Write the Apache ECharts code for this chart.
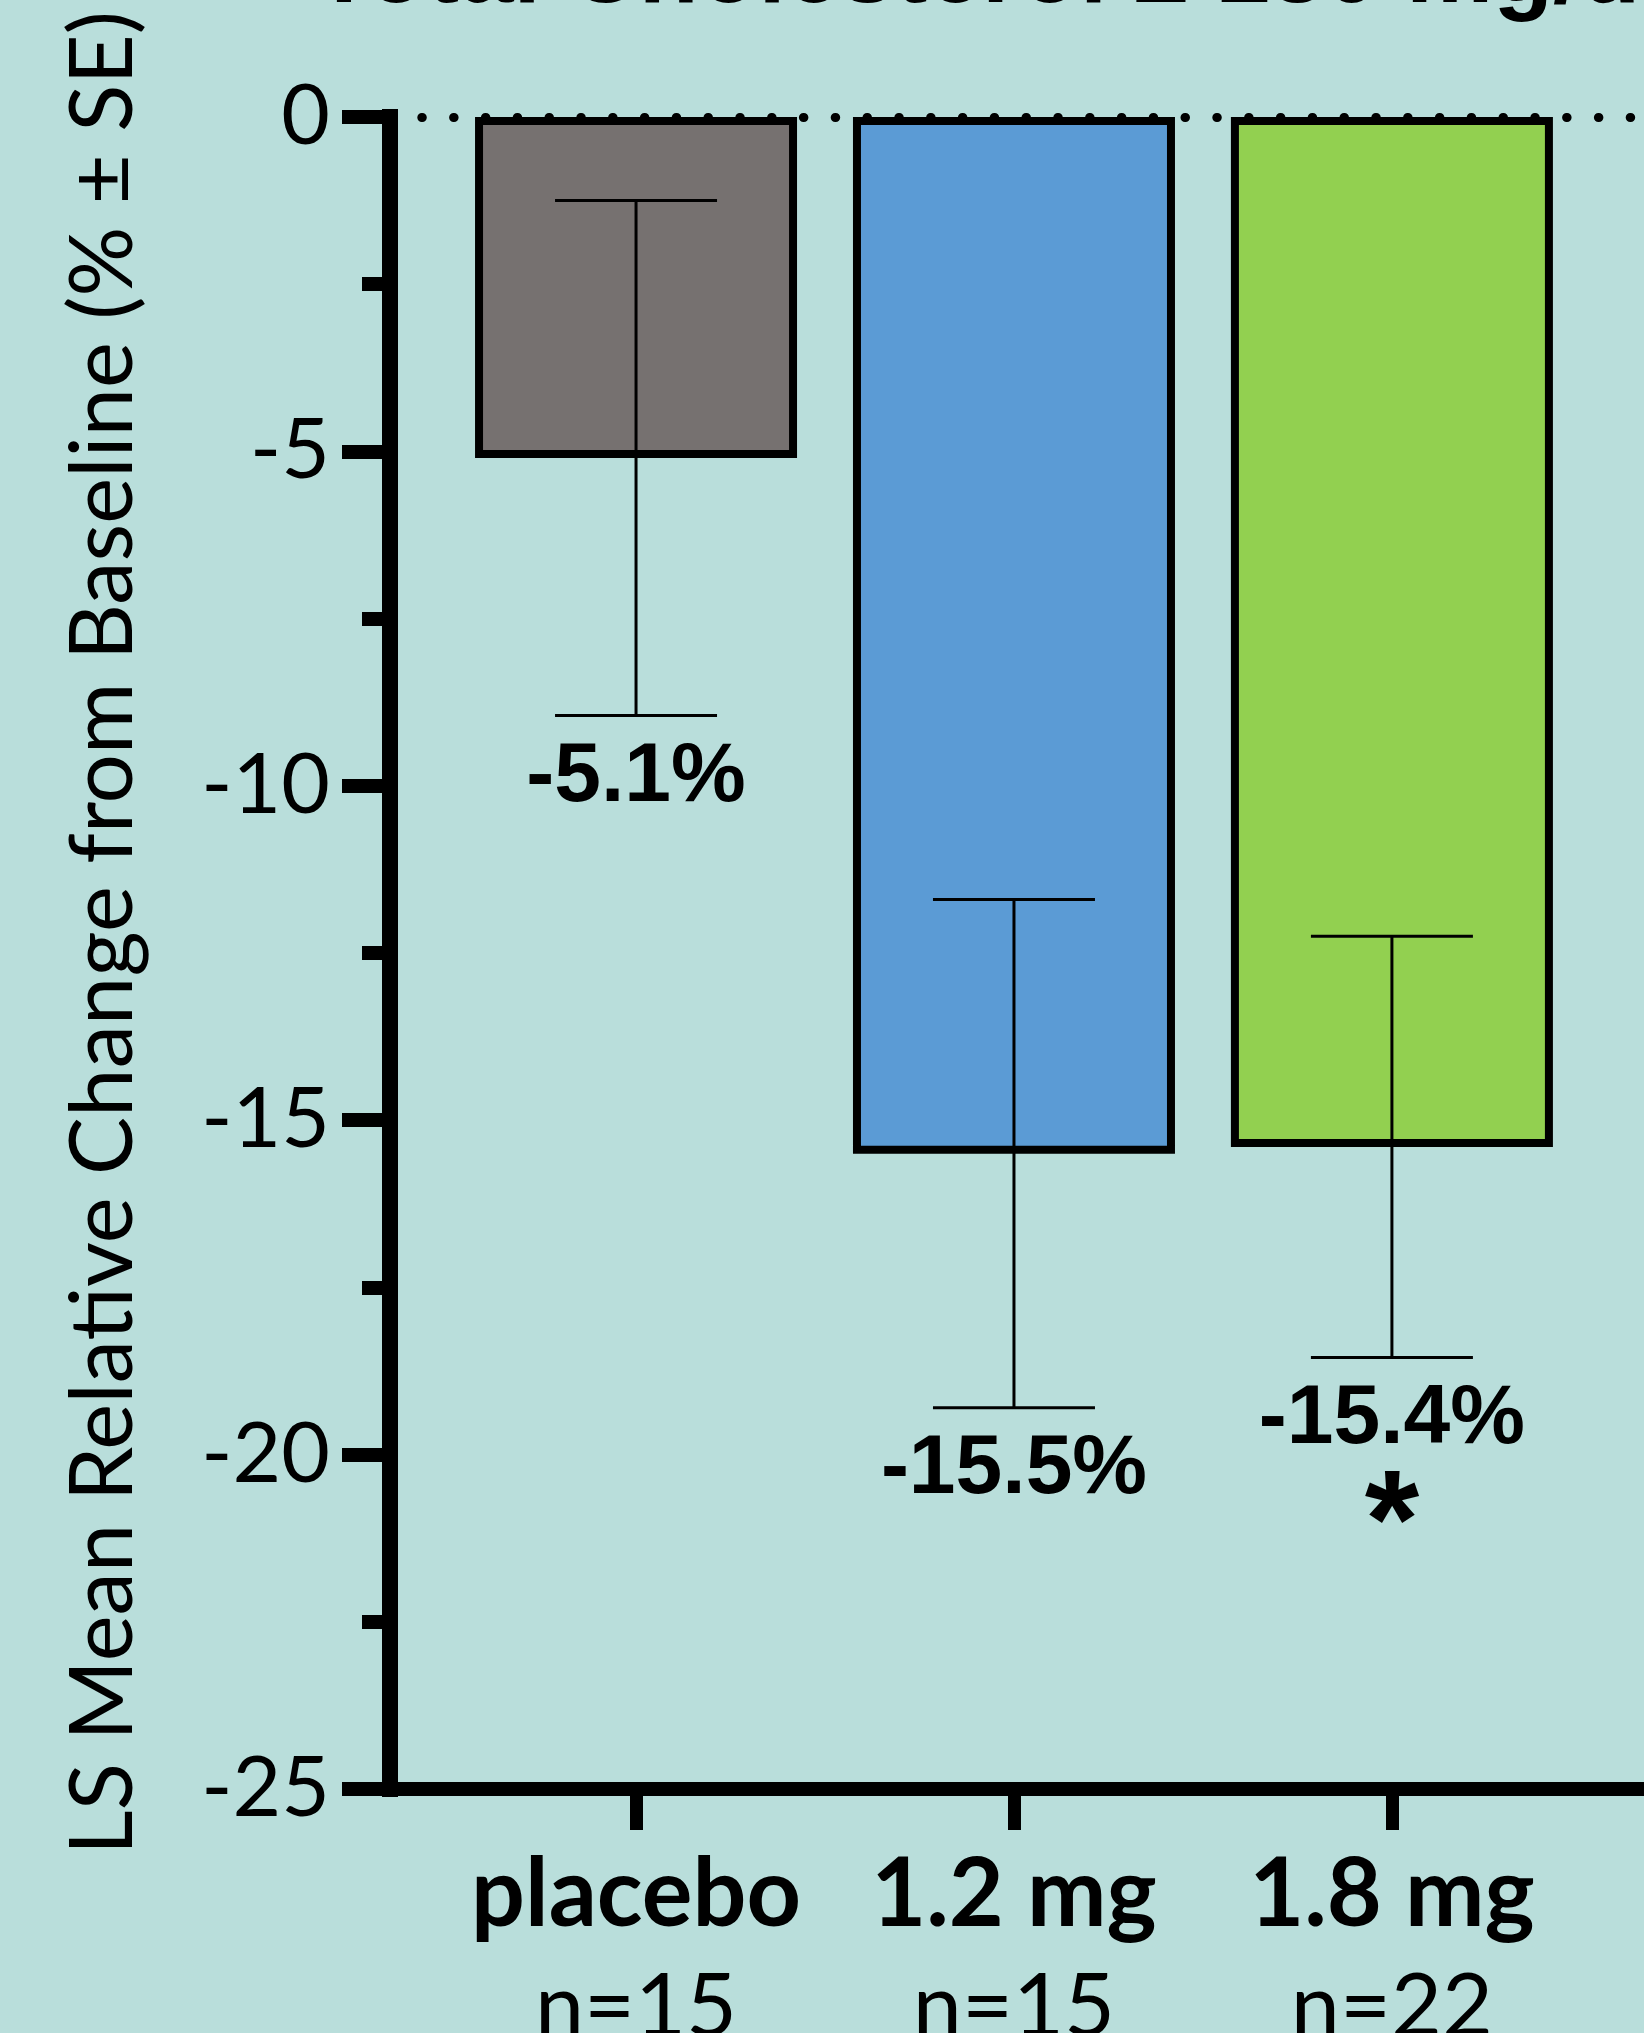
<!DOCTYPE html>
<html>
<head>
<meta charset="utf-8">
<script src="https://cdn.jsdelivr.net/npm/echarts@6/dist/echarts.min.js"></script>
<style>
  html, body { margin: 0; padding: 0; background: #b9dedb; }
  #chart { width: 1644px; height: 2033px; }
</style>
</head>
<body>
<div id="chart"></div>
<script>
// data
const groups = ["placebo", "1.2 mg", "1.8 mg"];
const sampleSizes = ["n=15", "n=15", "n=22"];
const lsMeans = [-5.1, -15.5, -15.4];
const standardErrors = [3.85, 3.8, 3.15];
const significance = ["", "", "*"];
const barColors = ["#767170", "#5b9bd5", "#92d050"];

const chart = echarts.init(document.getElementById("chart"));

const option = {
  backgroundColor: "#b9dedb",
  animation: false,
  // title sits mostly above the visible area, only its lower edge shows
  graphic: [
    {
      type: "text",
      x: 314,
      y: 24,
      style: {
        text: "Total Cholesterol \u2265 180 mg/dL",
        font: 'bold 98px "Liberation Sans"',
        lineHeight: 98,
        fill: "#000",
        verticalAlign: "bottom",
      },
    },
  ],
  grid: { left: 390, right: 0, top: 117, bottom: 244, outerBoundsMode: "none", containLabel: false },
  xAxis: {
    type: "value",
    min: -0.651,
    max: 2.667,
    splitLine: { show: false },
    axisLine: { onZero: false, lineStyle: { color: "#000", width: 14, cap: "square" } },
    axisTick: {
      customValues: [0, 1, 2],
      length: 41,
      lineStyle: { color: "#000", width: 13 },
    },
    axisLabel: {
      customValues: [0, 1, 2],
      margin: 50,
      color: "#000",
      formatter: (v) => `{g|${groups[v]}}\n{n|${sampleSizes[v]}}`,
      rich: {
        g: { fontFamily: "Lato", fontWeight: "bold", fontSize: 95, lineHeight: 112, color: "#000" },
        n: { fontFamily: "Lato", fontSize: 88, lineHeight: 114, color: "#000" },
      },
    },
  },
  yAxis: {
    type: "value",
    min: -25,
    max: 0,
    interval: 5,
    splitLine: { show: false },
    axisLine: { show: true, onZero: false, lineStyle: { color: "#000", width: 16, cap: "square" } },
    axisTick: { show: true, length: 48, lineStyle: { color: "#000", width: 14 } },
    minorTick: { show: true, splitNumber: 2, length: 28, lineStyle: { color: "#000", width: 14 } },
    axisLabel: { margin: 60, color: "#000", fontFamily: "Lato", fontSize: 84 },
    name: "LS Mean Relative Change from Baseline (% \u00b1 SE)",
    nameLocation: "middle",
    nameGap: 243,
    nameTextStyle: { fontFamily: "Lato", fontSize: 87, color: "#000", padding: [0, 0, 0, 40] },
  },
  series: [
    {
      type: "bar",
      barWidth: 322,
      data: groups.map((g, i) => ({
        value: [i, lsMeans[i]],
        itemStyle: { color: barColors[i] },
      })),
      itemStyle: { borderColor: "#000", borderWidth: 8 },
    },
    {
      type: "custom",
      z: 5,
      data: groups.map((g, i) => [i, lsMeans[i], standardErrors[i]]),
      renderItem: (params, api) => {
        const x = api.value(0);
        const mean = api.value(1);
        const se = api.value(2);
        const hi = api.coord([x, mean + se]);
        const lo = api.coord([x, mean - se]);
        const half = 81;
        const line = { stroke: "#000", lineWidth: 3 };
        const children = [
          { type: "line", shape: { x1: hi[0], y1: hi[1], x2: lo[0], y2: lo[1] }, style: line },
          { type: "line", shape: { x1: hi[0] - half, y1: hi[1], x2: hi[0] + half, y2: hi[1] }, style: line },
          { type: "line", shape: { x1: lo[0] - half, y1: lo[1], x2: lo[0] + half, y2: lo[1] }, style: line },
          {
            type: "text",
            x: lo[0],
            y: lo[1] + 20,
            style: {
              text: mean.toFixed(1) + "%",
              font: 'bold 84px "Liberation Sans"',
              fill: "#000",
              align: "center",
              verticalAlign: "top",
            },
          },
        ];
        const star = significance[params.dataIndex];
        if (star) {
          children.push({
            type: "text",
            x: lo[0],
            y: lo[1] + 171,
            style: {
              text: star,
              font: 'bold 140px "Liberation Sans"',
              fill: "#000",
              align: "center",
              verticalAlign: "middle",
            },
          });
        }
        return { type: "group", children };
      },
      markLine: {
        silent: true,
        symbol: "none",
        label: { show: false },
        lineStyle: { color: "#000", width: 9, type: [0.5, 31.3], cap: "round" },
        data: [{ yAxis: 0 }],
      },
    },
  ],
};

chart.setOption(option);
</script>
</body>
</html>
